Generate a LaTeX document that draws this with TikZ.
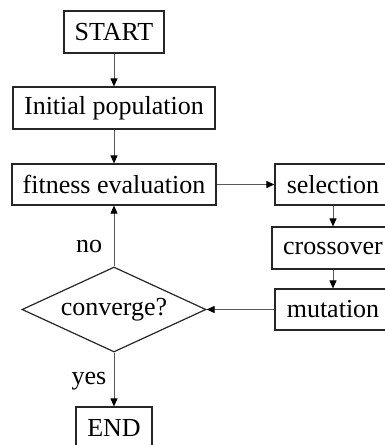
\documentclass[tikz,border=0pt]{standalone}
\usepackage{fontspec}
\setmainfont{Liberation Serif}
\usetikzlibrary{shapes.geometric,arrows.meta}
\begin{document}
\begin{tikzpicture}[x=1pt,y=-1pt,
  every node/.style={font=\fontsize{26}{30}\selectfont, inner sep=0pt},
  box/.style={draw=black!85, line width=1.2pt, rectangle, minimum height=42pt},
  dec/.style={draw=black!85, line width=1.2pt, diamond, aspect=2.16, minimum width=184pt, minimum height=85pt},
  conn/.style={draw=black!65, line width=1pt, -{Triangle[length=8pt,width=7pt,color=black]}},
  lbl/.style={}]
\useasboundingbox (0,0) rectangle (385,445);
\node[box, minimum width=100pt] (start) at (114,32) {START};
\node[box, minimum width=202pt] (init) at (114,108) {Initial population};
\node[box, minimum width=204pt, minimum height=41pt] (fit) at (114,184.5) {fitness evaluation};
\node[box, minimum width=116pt, minimum height=41pt] (sel) at (333,184.5) {selection};
\node[box, minimum width=122pt] (cross) at (333,248) {crossover};
\node[box, minimum width=116pt, minimum height=41pt] (mut) at (333,309.5) {mutation};
\node[dec] (conv) at (114,309.5) {converge?};
\node[box, minimum width=76pt] (end) at (114,428) {END};
\node[lbl] (no) at (89,246) {no};
\node[lbl] (yes) at (89,381) {yes};
\draw[conn] (start) -- (init);
\draw[conn] (init) -- (fit);
\draw[conn] (fit) -- (sel);
\draw[conn] (sel) -- (cross);
\draw[conn] (cross) -- (mut);
\draw[conn] (mut) -- (conv.east);
\draw[conn] (conv.north) -- (fit);
\draw[conn] (conv.south) -- (end);
\end{tikzpicture}
\end{document}
